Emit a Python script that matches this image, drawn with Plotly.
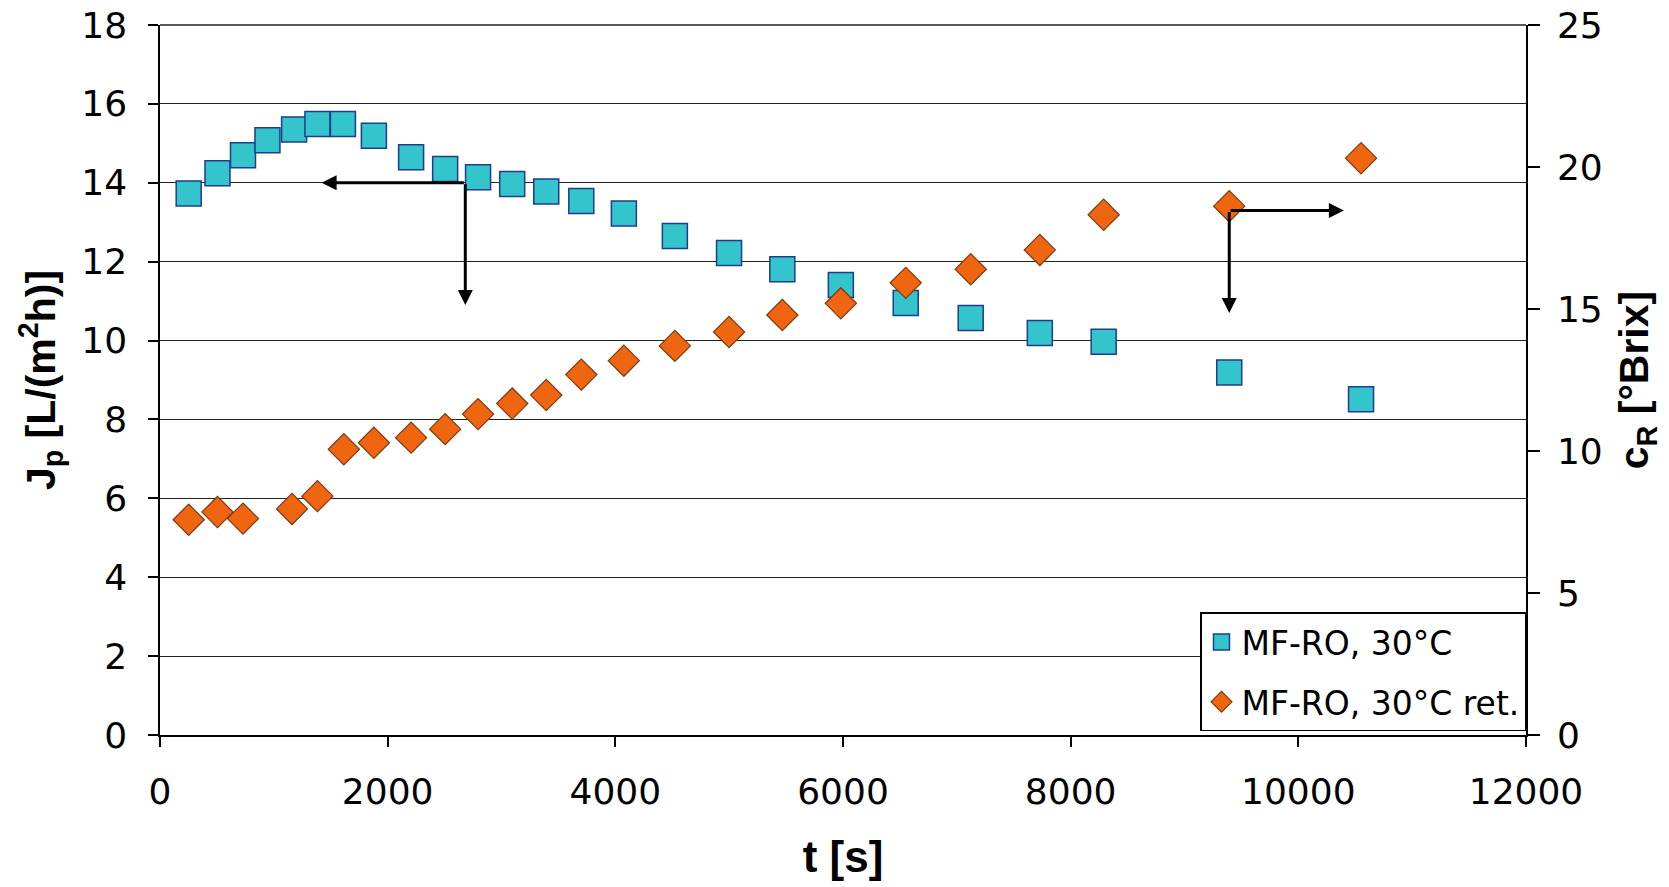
import plotly.graph_objects as go

# Flux J_p (left axis)
t_flux = [252, 505, 729, 944, 1178, 1383, 1607, 1879, 2206, 2505, 2794, 3094, 3393, 3701,
          4075, 4523, 4999, 5467, 5981, 6551, 7122, 7729, 8290, 9393, 10551]
jp = [13.73, 14.24, 14.70, 15.08, 15.35, 15.49, 15.49, 15.19, 14.65, 14.35, 14.14, 13.97,
      13.78, 13.54, 13.22, 12.65, 12.22, 11.81, 11.41, 10.95, 10.57, 10.19, 9.97, 9.19, 8.51]

# Retentate concentration c_R (right axis)
t_conc = [252, 505, 729, 1160, 1383, 1615, 1879, 2206, 2505, 2794, 3094, 3393, 3701,
          4075, 4523, 4999, 5467, 5981, 6551, 7122, 7729, 8290, 9393, 10551]
cr = [7.58, 7.85, 7.62, 7.96, 8.41, 10.06, 10.29, 10.47, 10.77, 11.30, 11.67, 11.97, 12.69,
      13.18, 13.70, 14.19, 14.79, 15.20, 15.92, 16.40, 17.08, 18.32, 18.62, 20.31]

x_ticks = [0, 2000, 4000, 6000, 8000, 10000, 12000]
x_ticktext = [str(v) for v in x_ticks]
y1_ticks = list(range(0, 19, 2))
y2_ticks = [0, 5, 10, 15, 20, 25]

TICKFONT = "DejaVu Sans, Arial, sans-serif"
TITLEFONT = "Liberation Sans, Arial, sans-serif"

fig = go.Figure()
fig.add_trace(go.Scatter(
    x=t_flux, y=jp, mode="markers", name="MF-RO, 30°C", legendgroup="a",
    marker=dict(symbol="square", size=25, color="#33C4CC",
                line=dict(color="#1F3D8C", width=1.5)),
    yaxis="y"))
fig.add_trace(go.Scatter(
    x=t_conc, y=cr, mode="markers", name="MF-RO, 30°C ret.", legendgroup="b",
    marker=dict(symbol="diamond", size=24, color="#F0650F",
                line=dict(color="#7A3A12", width=1.2)),
    yaxis="y2"))

arrow = dict(showarrow=True, arrowhead=2, arrowsize=1, arrowwidth=3, arrowcolor="black",
             xref="x", yref="y", axref="x", ayref="y", text="")
# left-pointing arrow group
fig.add_annotation(x=1420, y=14.0, ax=2682, ay=14.0, **arrow)
fig.add_annotation(x=2682, y=10.9, ax=2682, ay=14.0, **arrow)
# right-pointing arrow group
fig.add_annotation(x=10400, y=13.3, ax=9393, ay=13.3, **arrow)
fig.add_annotation(x=9393, y=10.7, ax=9393, ay=13.3, **arrow)

fig.update_layout(
    width=1669, height=887,
    margin=dict(l=160, r=143, t=25, b=152),
    paper_bgcolor="white", plot_bgcolor="white",
    font=dict(family=TICKFONT, size=36, color="black"),
    showlegend=True,
    legend=dict(x=1.0, y=0.005, xanchor="right", yanchor="bottom",
                bgcolor="white", bordercolor="black", borderwidth=1.5,
                font=dict(size=33, family=TICKFONT), traceorder="grouped",
                tracegroupgap=14, itemsizing="trace"),
    xaxis=dict(range=[0, 12000], tickvals=x_ticks, ticktext=x_ticktext, showgrid=False,
               ticks="outside", ticklen=10, tickwidth=1.5, tickcolor="black",
               showline=True, linecolor="black", linewidth=1.5, automargin=False,
               tickfont=dict(size=36), zeroline=False, ticklabelstandoff=14,
               title=dict(text="<b>t [s]</b>", font=dict(size=44, family=TITLEFONT),
                          standoff=30)),
    yaxis=dict(range=[0, 18], tickvals=y1_ticks, showgrid=True, gridcolor="#222222",
               gridwidth=1.3, ticks="outside", ticklen=10, tickwidth=1.5,
               tickcolor="black", showline=True, linecolor="black", linewidth=1.5,
               mirror=False, zeroline=False, tickfont=dict(size=36), automargin=False,
               ticklabelstandoff=14,
               title=dict(text="<b>J<sub>p</sub> [L/(m<sup>2</sup>h)]</b>",
                          font=dict(size=41, family=TITLEFONT), standoff=13)),
    yaxis2=dict(range=[0, 25], tickvals=y2_ticks, overlaying="y", side="right",
                showgrid=False, ticks="outside", ticklen=12, tickwidth=1.5,
                tickcolor="black", showline=True, linecolor="black", linewidth=1.5,
                zeroline=False, tickfont=dict(size=36), ticklabelstandoff=10,
                automargin=False,
                title=dict(text="<b>c<sub>R</sub> [°Brix]</b>",
                           font=dict(size=41, family=TITLEFONT), standoff=18)),
)
fig.add_shape(type="line", xref="paper", yref="paper", x0=0, x1=1, y0=1, y1=1,
              line=dict(color="#222222", width=1.3))

fig.write_html("out.html")
